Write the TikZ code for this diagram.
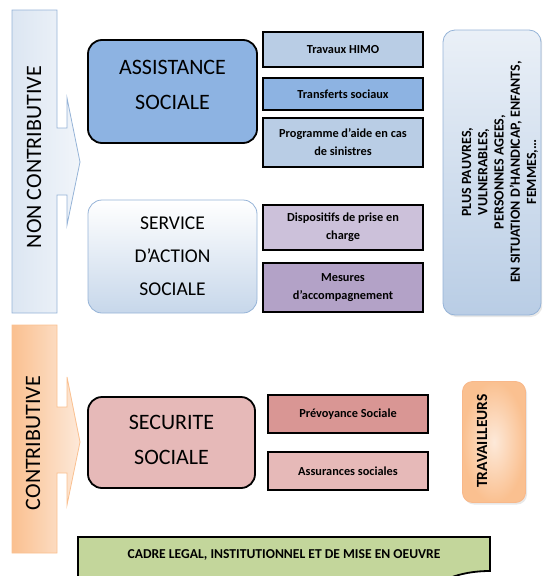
\documentclass[tikz,border=0pt]{standalone}
\usepackage{fontspec}
\setmainfont{Carlito}
\usetikzlibrary{shadows}
\definecolor{bluemid}{HTML}{8DB3E2}
\definecolor{bluelight}{HTML}{B9CDE5}
\definecolor{blueedge}{HTML}{95B3D7}
\definecolor{bluepale}{HTML}{DCE6F2}
\definecolor{purplelight}{HTML}{CCC1DA}
\definecolor{purplemid}{HTML}{B3A2C7}
\definecolor{redlight}{HTML}{E6B9B8}
\definecolor{redmid}{HTML}{D99694}
\definecolor{greenmid}{HTML}{C3D69B}
\definecolor{orangemid}{HTML}{FAC090}
\definecolor{orangepale}{HTML}{FDE9D9}
\definecolor{orangeedge}{HTML}{F8B88A}
\tikzset{
  bigbox/.style={rounded corners=14pt, draw=black, line width=1.8pt, inner sep=0pt},
  bigtext/.style={align=center, font=\fontsize{22}{35}\selectfont, inner sep=0pt},
  smallbox/.style={draw=black, line width=1.8pt, align=center, inner sep=0pt,
    minimum width=160pt, font=\bfseries\fontsize{12.3}{18}\selectfont},
  sidelabel/.style={rotate=90, font=\fontsize{22}{26}\selectfont},
  vlabel/.style={rotate=90, align=center, font=\bfseries\fontsize{14}{16.3}\selectfont},
  softshadow/.style={drop shadow={opacity=0.18, shadow xshift=1.5pt, shadow yshift=-2pt}},
}
\begin{document}
\begin{tikzpicture}[x=1pt,y=-1pt]
\useasboundingbox (0,0) rectangle (542,576);
\clip (0,0) rectangle (542,576);

% NON CONTRIBUTIVE arrow
\path[draw=blueedge, line width=0.8pt, left color=bluepale, right color=bluepale!40]
  (12,10) -- (57,10) -- (57,128) -- (67,128) -- (67,98) -- (80,162) -- (67,225)
  -- (67,195) -- (57,195) -- (57,313) -- (12,313) -- cycle;
\node[sidelabel] (noncontrib) at (34,157) {NON CONTRIBUTIVE};

% CONTRIBUTIVE arrow
\path[draw=orangemid, line width=0.8pt, left color=orangemid, right color=orangepale]
  (12,325) -- (57,325) -- (57,407) -- (67,407) -- (67,377) -- (80,442) -- (67,505)
  -- (67,473) -- (57,473) -- (57,553) -- (12,553) -- cycle;
\node[sidelabel] (contrib) at (33,443) {CONTRIBUTIVE};

% Big boxes
\node[bigbox, fill=bluemid, minimum width=169pt, minimum height=103pt]
  (assist) at (172.5,91.5) {};
\node[bigtext] (assistT) at (172.5,85) {ASSISTANCE\\SOCIALE};
\node[bigbox, draw=blueedge, line width=0.8pt, top color=white, bottom color=bluelight!80,
  minimum width=169pt, minimum height=113pt]
  (service) at (172.5,256.5) {};
\node[bigtext, font=\fontsize{19.5}{33}\selectfont] (serviceT) at (172.5,256.5) {SERVICE\\D’ACTION\\SOCIALE};
\node[bigbox, fill=redlight, minimum width=167pt, minimum height=91pt]
  (secu) at (171.5,442.5) {};
\node[bigtext] (secuT) at (171.5,439.5) {SECURITE\\SOCIALE};

% Small boxes
\node[smallbox, fill=bluelight, minimum height=35pt] (himo) at (343,49.5) {Travaux HIMO};
\node[smallbox, fill=bluemid, minimum height=32pt] (transf) at (343,94) {Transferts sociaux};
\node[smallbox, fill=bluelight, minimum height=49pt] (prog) at (343,142.5) {Programme d’aide en cas\\de sinistres};
\node[smallbox, fill=purplelight, minimum height=45pt] (dispo) at (343,227.5) {Dispositifs de prise en\\charge};
\node[smallbox, fill=purplemid, minimum height=49pt] (mesures) at (343,287.5) {Mesures\\d’accompagnement};
\node[smallbox, fill=redmid, minimum height=38pt] (prevoy) at (348,414) {Prévoyance Sociale};
\node[smallbox, fill=redlight, minimum height=38pt] (assur) at (348,471) {Assurances sociales};

% Right target boxes
\node[softshadow, draw=blueedge, line width=0.8pt, rounded corners=12pt, top color=bluepale!60, bottom color=bluelight,
  minimum width=98pt, minimum height=285pt, inner sep=0pt] (cible) at (492,172.5) {};
\node[vlabel] (ciblet) at (500,172) {PLUS PAUVRES,\\VULNERABLES,\\PERSONNES AGEES,\\EN SITUATION D’HANDICAP, ENFANTS,\\FEMMES,…};

\node[softshadow, draw=orangeedge, line width=0.8pt, rounded corners=10pt, shading=radial,
  inner color=orangepale, outer color=orangemid,
  minimum width=63pt, minimum height=121pt, inner sep=0pt] (trav) at (494,442) {};
\node[vlabel, font=\bfseries\fontsize{15.5}{18}\selectfont] (travt) at (482,441) {TRAVAILLEURS};

% Cadre legal
\path[draw=black, line width=1.8pt, fill=greenmid]
  (78,600) -- (78,537) -- (490,537) -- (490,571) .. controls (476,571) and (460,573) .. (445,580) -- (445,600) -- cycle;
\node[font=\bfseries\fontsize{13.6}{15}\selectfont] (cadre) at (284,555) {CADRE LEGAL, INSTITUTIONNEL ET DE MISE EN OEUVRE};
\end{tikzpicture}
\end{document}
